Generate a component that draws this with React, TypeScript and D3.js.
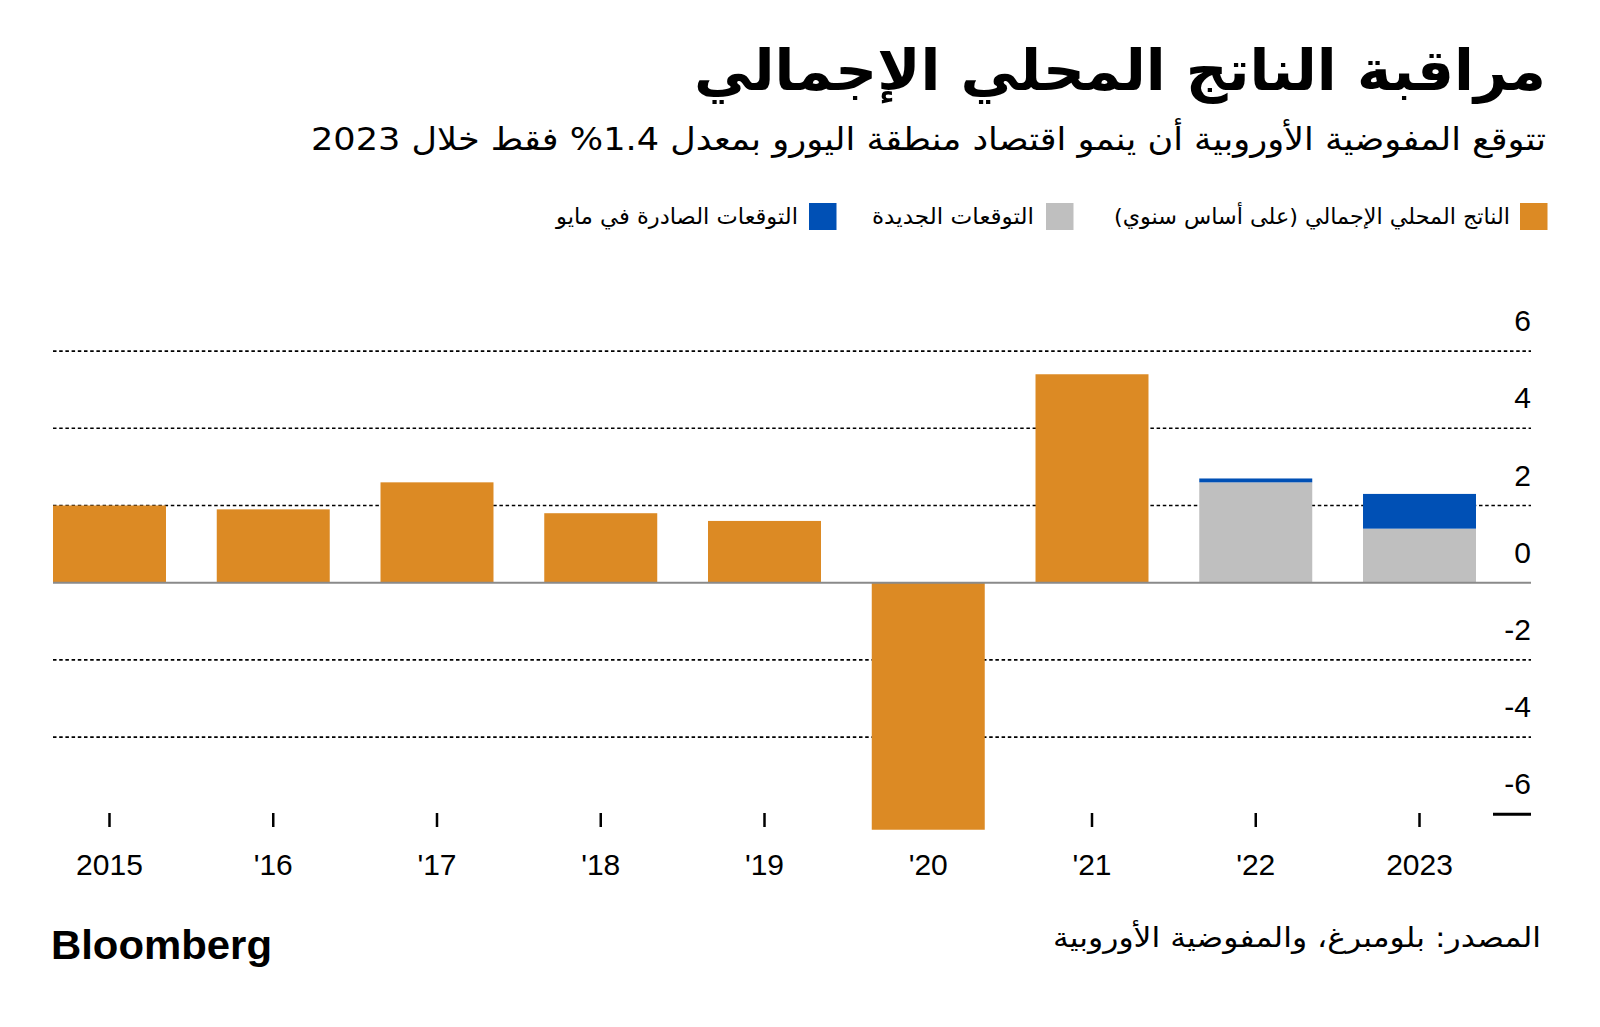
import React from 'react';
import * as d3 from 'd3';

const years = ['2015', '2016', '2017', '2018', '2019', '2020', '2021', '2022', '2023'];
const yearLabels = ['2015', "'16", "'17", "'18", "'19", "'20", "'21", "'22", '2023'];
const gdpActual: (number | null)[] = [2.0, 1.9, 2.6, 1.8, 1.6, -6.4, 5.4, null, null];
const newForecast: (number | null)[] = [null, null, null, null, null, null, null, 2.6, 1.4];
const mayForecast: (number | null)[] = [null, null, null, null, null, null, null, 2.7, 2.3];
const yTicks = [6, 4, 2, 0, -2, -4, -6];

const titleText = 'مراقبة الناتج المحلي الإجمالي';
const subtitleText = 'تتوقع المفوضية الأوروبية أن ينمو اقتصاد منطقة اليورو بمعدل 1.4% فقط خلال 2023';
const legendLabels = ['الناتج المحلي الإجمالي (على أساس سنوي)', 'التوقعات الجديدة', 'التوقعات الصادرة في مايو'];
const sourceText = 'المصدر: بلومبرغ، والمفوضية الأوروبية';

const ORANGE = '#DC8A24';
const GRAY = '#BFBFBF';
const BLUE = '#0050B5';

const AR_FONT = '"DejaVu Sans", "Noto Sans", sans-serif';
const NUM_FONT = '"Liberation Sans", Arial, sans-serif';

export default function App() {
  const W = 1600;
  const H = 1027;
  const gridLeft = 53;
  const gridRight = 1531;

  const x = d3.scaleBand<string>().domain(years).range([53, 1476]).paddingInner(0.31).paddingOuter(0);
  const y = d3.scaleLinear().domain([-6, 6]).range([814.3, 351.1]);
  const y0 = y(0);

  const legendItems = [
    { color: ORANGE, label: legendLabels[0], sq: 1520, textRight: 1510, len: 396 },
    { color: GRAY, label: legendLabels[1], sq: 1046, textRight: 1034, len: 162 },
    { color: BLUE, label: legendLabels[2], sq: 809, textRight: 798, len: 242 },
  ];

  return (
    <svg width={W} height={H} style={{ position: 'absolute', left: 0, top: 0, background: '#fff' }}>
      <rect x={0} y={0} width={W} height={H} fill="#fff" />
      {/* Title */}
      <text x={1546} y={90} direction="rtl" textAnchor="start" fontFamily={AR_FONT} fontWeight="bold" fontSize={56}
        textLength={852} lengthAdjust="spacingAndGlyphs" fill="#000">{titleText}</text>
      <text x={1546} y={150} direction="rtl" textAnchor="start" fontFamily={AR_FONT} fontSize={32}
        textLength={1235} lengthAdjust="spacingAndGlyphs" fill="#000">{subtitleText}</text>

      {/* Legend */}
      {legendItems.map((it, i) => (
        <g key={i}>
          <rect x={it.sq} y={203} width={27.5} height={27} fill={it.color} />
          <text x={it.textRight} y={224} direction="rtl" textAnchor="start" fontFamily={AR_FONT} fontSize={22}
            textLength={it.len} lengthAdjust="spacingAndGlyphs" fill="#000">{it.label}</text>
        </g>
      ))}

      {/* Gridlines */}
      {yTicks.filter(t => t !== 0 && t !== -6).map(t => (
        <line key={t} x1={gridLeft} x2={gridRight} y1={y(t)} y2={y(t)} stroke="#000" strokeWidth={1.6} strokeDasharray="3.5 2.7" />
      ))}
      <line x1={1493} x2={gridRight} y1={y(-6)} y2={y(-6)} stroke="#000" strokeWidth={3} />

      {/* Y labels */}
      {yTicks.map(t => (
        <text key={t} x={1531} y={y(t) - 20} textAnchor="end" fontFamily={NUM_FONT} fontSize={30} fill="#000">{t}</text>
      ))}

      {/* X ticks & labels */}
      {years.map((yr, i) => {
        const cx = x(yr)! + x.bandwidth() / 2;
        return (
          <g key={yr}>
            <line x1={cx} x2={cx} y1={813} y2={827} stroke="#000" strokeWidth={2.5} />
            <text x={cx} y={875} textAnchor="middle" fontFamily={NUM_FONT} fontSize={30} fill="#000">{yearLabels[i]}</text>
          </g>
        );
      })}

      {/* Bars */}
      {years.map((yr, i) => {
        const bx = x(yr)!;
        const bw = x.bandwidth();
        const els: React.ReactNode[] = [];
        const a = gdpActual[i];
        if (a !== null) {
          els.push(<rect key="a" x={bx} y={Math.min(y(a), y0)} width={bw} height={Math.abs(y(a) - y0)} fill={ORANGE} />);
        }
        const n = newForecast[i];
        const m = mayForecast[i];
        if (n !== null) {
          els.push(<rect key="n" x={bx} y={y(n)} width={bw} height={y0 - y(n)} fill={GRAY} />);
        }
        if (n !== null && m !== null) {
          els.push(<rect key="m" x={bx} y={y(Math.max(n, m))} width={bw} height={Math.abs(y(n) - y(m))} fill={BLUE} />);
        }
        return <g key={yr}>{els}</g>;
      })}

      {/* Zero line */}
      <line x1={gridLeft} x2={gridRight} y1={y0} y2={y0} stroke="#8a8a8a" strokeWidth={2} />

      {/* Footer */}
      <text x={51} y={959} fontFamily={NUM_FONT} fontWeight="bold" fontSize={40} textLength={221}
        lengthAdjust="spacingAndGlyphs" fill="#000">Bloomberg</text>
      <text x={1541} y={947} direction="rtl" textAnchor="start" fontFamily={AR_FONT} fontSize={28}
        textLength={488} lengthAdjust="spacingAndGlyphs" fill="#000">{sourceText}</text>
    </svg>
  );
}
